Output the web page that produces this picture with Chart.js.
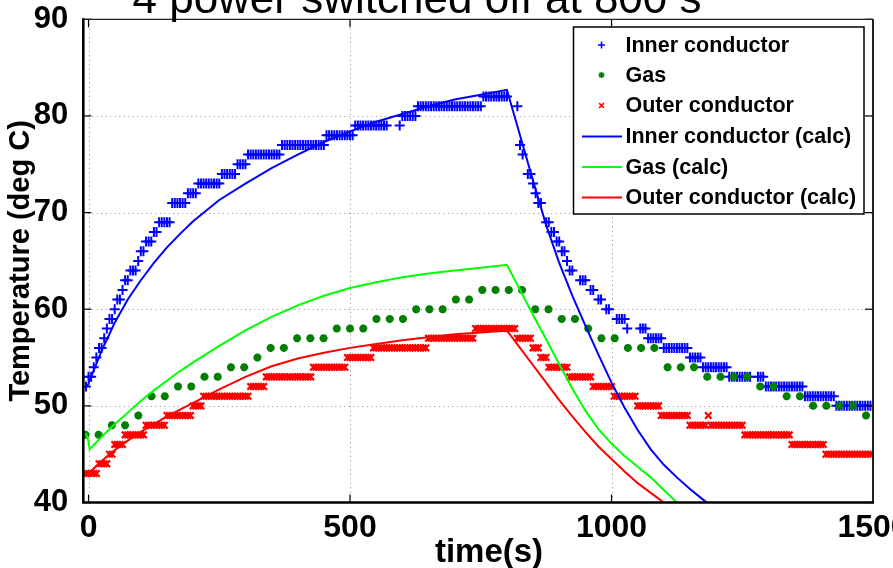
<!DOCTYPE html>
<html>
<head>
<meta charset="utf-8">
<script src="https://cdn.jsdelivr.net/npm/chart.js@4.4.1/dist/chart.umd.min.js"></script>
<style>
  html, body { margin: 0; padding: 0; background: #fff; }
</style>
</head>
<body>
<canvas id="chart" width="893" height="568"></canvas>
<script>
/* ======================
   DATA
====================== */
const titleText = "4 power switched off at 800 s"
const xTitle = "time(s)"
const yTitle = "Temperature (deg C)"
const xTicks = [0, 500, 1000, 1500]
const yTicks = [40, 50, 60, 70, 80, 90]

// measured points: inner / outer every 5 s from -5 s, gas every ~25 s
const sampleStart = -5
const sampleStep = 5
const gasStart = -6
const gasStep = 25.3

const innerMeasured = [
  52,53,53,54,55,56,56,57,58,59,59,60,61,61,62,63,63,64,64,64,
  65,66,66,67,67,67,68,68,69,69,69,69,69,71,71,71,71,71,71,72,
  72,72,72,73,73,73,73,73,73,73,73,73,74,74,74,74,74,74,75,75,
  75,75,76,76,76,76,76,76,76,76,76,76,76,76,76,77,77,77,77,77,
  77,77,77,77,77,77,77,77,77,77,77,77,78,78,78,78,78,78,78,78,
  78,78,78,79,79,79,79,79,79,79,79,79,79,79,79,79,null,null,null,null,
  79,80,80,80,80,80,80,81,81,81,81,81,81,81,81,81,81,81,81,81,
  81,81,81,81,81,81,81,81,81,81,81,81,82,82,82,82,82,82,82,82,
  82,82,null,null,null,81,77,76,null,74,74,73,72,71,71,null,69,69,68,68,
  67,67,66,66,65,64,64,null,null,63,63,63,null,62,62,null,61,61,null,60,
  60,null,null,59,59,59,59,58,null,null,null,null,58,58,58,57,57,57,57,57,
  57,56,56,56,56,56,56,56,56,56,56,55,55,55,55,55,54,54,54,54,
  54,54,54,54,54,54,53,53,53,53,53,53,53,53,53,null,null,53,53,53,
  52,52,52,52,52,52,52,52,52,52,52,52,52,52,52,51,51,51,51,51,
  51,51,51,51,51,51,51,50,50,50,50,50,50,50,50,50,50,50,50,50,
  50
]

const outerMeasured = [
  43,43,43,43,43,44,44,44,44,45,45,46,46,46,46,47,47,47,47,47,
  47,47,47,48,48,48,48,48,48,48,48,49,49,49,49,49,49,49,49,49,
  49,50,50,50,50,51,51,51,51,51,51,51,51,51,51,51,51,51,51,51,
  51,51,51,52,52,52,52,52,52,53,53,53,53,53,53,53,53,53,53,53,
  53,53,53,53,53,53,53,54,54,54,54,54,54,54,54,54,54,54,54,54,
  55,55,55,55,55,55,55,55,55,55,56,56,56,56,56,56,56,56,56,56,
  56,56,56,56,56,56,56,56,56,56,56,57,57,57,57,57,57,57,57,57,
  57,57,57,57,57,57,57,57,57,58,58,58,58,58,58,58,58,58,58,58,
  58,58,58,58,58,57,57,57,57,57,57,56,56,56,55,55,55,54,54,54,
  54,54,54,54,54,53,53,53,53,53,53,53,53,53,52,52,52,52,52,52,
  52,52,51,51,51,51,51,51,51,51,51,50,50,50,50,50,50,50,50,50,
  49,49,49,49,49,49,49,49,49,49,49,48,48,48,48,48,48,48,49,48,
  48,48,48,48,48,48,48,48,48,48,48,48,47,47,47,47,47,47,47,47,
  47,47,47,47,47,47,47,47,47,47,46,46,46,46,46,46,46,46,46,46,
  46,46,46,45,45,45,45,45,45,45,45,45,45,45,45,45,45,45,45,45,
  45
]

const gasMeasured = [
  47,47,48,48,49,51,51,52,52,53,53,54,54,55,56,56,57,57,57,58,
  58,58,59,59,59,60,60,60,61,61,62,62,62,62,60,60,59,59,58,57,
  57,56,56,56,54,54,54,53,53,53,53,52,52,51,51,50,50,50,50,49
]

// calculated curves, read at these times
const calcTimes = [
  -5, 0, 2, 25, 50, 75, 100, 125, 150, 175, 200, 250, 300, 350, 400, 450,
  500, 550, 600, 650, 700, 750, 800, 825, 850, 875, 900, 925, 950, 975,
  1000, 1025, 1050, 1075, 1100, 1125, 1150, 1175, 1200
]
const innerCalc = [
  51.9, 52.3, 52.6, 55.7, 58.6, 61.0, 63.0, 64.8, 66.4, 67.8, 69.1, 71.3, 73.0, 74.6, 76.0, 77.3,
  78.4, 79.4, 80.2, 81.0, 81.7, 82.2, 82.7, 78.0, 73.3, 68.7, 64.8, 61.4, 58.3, 55.3,
  52.4, 49.8, 47.5, 45.5, 43.9, 42.6, 41.4, 40.3, 39.3
]
const gasCalc = [
  47.2, 46.3, 45.5, 46.8, 48.1, 49.3, 50.5, 51.6, 52.6, 53.6, 54.5, 56.2, 57.8, 59.2, 60.4, 61.4,
  62.2, 62.8, 63.3, 63.7, 64.0, 64.3, 64.6, 62.0, 59.4, 56.9, 54.3, 51.8, 49.5, 47.6,
  46.1, 44.8, 43.7, 42.6, 41.3, 40.0, 38.8, 37.8, 36.9
]
const outerCalc = [
  42.9, 43.0, 43.1, 44.3, 45.4, 46.4, 47.3, 48.1, 48.9, 49.6, 50.3, 51.7, 53.0, 54.1, 54.9, 55.5,
  56.0, 56.4, 56.8, 57.1, 57.4, 57.6, 57.8, 56.0, 54.2, 52.4, 50.6, 48.9, 47.3, 45.8,
  44.5, 43.2, 42.0, 41.0, 40.0, 39.1, 38.3, 37.6, 37.0
]

/* ======================
   HELPERS
====================== */
const FONT = '"Liberation Sans", Arial, Helvetica, sans-serif'

const sampled = (values, start, step) =>
  values.map((v, i) => ({ x: start + i * step, y: v }))

const paired = (times, values) =>
  times.map((t, i) => ({ x: t, y: values[i] }))

const AREA = { left: 83.3, right: 873, top: 19.3, bottom: 502.5 }

/* ======================
   PLUGINS
====================== */
const dottedGrid = {
  id: "dottedGrid",
  beforeDatasetsDraw(chart) {
    const { ctx, chartArea: a, scales: { x, y } } = chart
    ctx.save()
    ctx.strokeStyle = "#8c8c8c"
    ctx.lineWidth = 1
    ctx.setLineDash([1, 3.5])
    xTicks.forEach(v => {
      const px = Math.round(x.getPixelForValue(v)) + 0.5
      if (px <= a.left + 1 || px >= a.right - 1) return
      ctx.beginPath(); ctx.moveTo(px, a.top); ctx.lineTo(px, a.bottom); ctx.stroke()
    })
    yTicks.forEach(v => {
      const py = Math.round(y.getPixelForValue(v)) + 0.5
      if (py <= a.top + 1 || py >= a.bottom - 1) return
      ctx.beginPath(); ctx.moveTo(a.left, py); ctx.lineTo(a.right, py); ctx.stroke()
    })
    ctx.restore()
  }
}

const matlabFrame = {
  id: "matlabFrame",
  afterDatasetsDraw(chart) {
    const { ctx, chartArea: a, scales: { x, y } } = chart
    const tick = 8
    ctx.save()
    ctx.setLineDash([])
    ctx.strokeStyle = "#000"
    // ticks pointing inward on every side
    ctx.lineWidth = 1.2
    xTicks.forEach(v => {
      const px = x.getPixelForValue(v)
      ctx.beginPath(); ctx.moveTo(px, a.bottom); ctx.lineTo(px, a.bottom - tick); ctx.stroke()
      ctx.beginPath(); ctx.moveTo(px, a.top); ctx.lineTo(px, a.top + tick); ctx.stroke()
    })
    yTicks.forEach(v => {
      const py = y.getPixelForValue(v)
      ctx.beginPath(); ctx.moveTo(a.left, py); ctx.lineTo(a.left + tick, py); ctx.stroke()
      ctx.beginPath(); ctx.moveTo(a.right, py); ctx.lineTo(a.right - tick, py); ctx.stroke()
    })
    // box
    ctx.strokeStyle = "#222"
    ctx.lineWidth = 1.2
    ctx.beginPath(); ctx.moveTo(a.left, a.top); ctx.lineTo(a.right, a.top); ctx.stroke()
    ctx.lineWidth = 2
    ctx.beginPath(); ctx.moveTo(a.right, a.top); ctx.lineTo(a.right, a.bottom); ctx.stroke()
    ctx.strokeStyle = "#000"
    ctx.lineWidth = 2.6
    ctx.beginPath(); ctx.moveTo(a.left, a.top - 1); ctx.lineTo(a.left, a.bottom); ctx.lineTo(a.right + 1, a.bottom); ctx.stroke()
    ctx.restore()
  }
}

const boxLegend = {
  id: "boxLegend",
  afterDraw(chart) {
    const { ctx } = chart
    const box = { x: 573.5, y: 27, w: 290.5, h: 187 }
    const rowY = [45, 75, 105.5, 136.5, 167, 197.5]
    ctx.save()
    ctx.fillStyle = "#fff"
    ctx.fillRect(box.x, box.y, box.w, box.h)
    ctx.strokeStyle = "#000"
    ctx.lineWidth = 1.5
    ctx.strokeRect(box.x, box.y, box.w, box.h)
    ctx.font = `bold 21.5px ${FONT}`
    ctx.textBaseline = "middle"
    ctx.textAlign = "left"
    chart.data.datasets.forEach((ds, i) => {
      const yy = rowY[i]
      if (ds.showLine) {
        ctx.strokeStyle = ds.borderColor
        ctx.lineWidth = 2
        ctx.beginPath(); ctx.moveTo(582, yy); ctx.lineTo(622, yy); ctx.stroke()
      } else {
        ctx.strokeStyle = ds.borderColor
        ctx.fillStyle = ds.backgroundColor
        Chart.helpers.drawPoint(ctx, {
          pointStyle: ds.pointStyle, radius: ds.legendRadius,
          rotation: 0, borderWidth: ds.pointBorderWidth
        }, 601.5, yy)
      }
      ctx.fillStyle = "#000"
      ctx.fillText(ds.label, 625.5, yy + 1)
    })
    ctx.restore()
  }
}

const outerTexts = {
  id: "outerTexts",
  afterDraw(chart) {
    const { ctx } = chart
    ctx.save()
    ctx.fillStyle = "#000"
    ctx.textAlign = "center"
    ctx.textBaseline = "alphabetic"
    // title, mostly above the top edge of the picture
    ctx.font = `44px ${FONT}`
    ctx.fillText(titleText, 417, 12.5)
    // x axis title
    ctx.font = `bold 33px ${FONT}`
    ctx.fillText(xTitle, 489, 562)
    ctx.restore()
  }
}

/* ======================
   CHART
====================== */
const tickFont = { family: FONT, size: 31, weight: "bold" }

new Chart(document.getElementById("chart"), {
  type: "scatter",
  data: {
    datasets: [
      {
        label: "Inner conductor",
        data: sampled(innerMeasured, sampleStart, sampleStep),
        showLine: false,
        pointStyle: "cross",
        pointRadius: 5,
        pointBorderWidth: 2,
        legendRadius: 3.5,
        borderColor: "#0000ff",
        backgroundColor: "#0000ff",
        order: 3
      },
      {
        label: "Gas",
        data: sampled(gasMeasured, gasStart, gasStep),
        showLine: false,
        pointStyle: "star",
        pointRadius: 4,
        pointBorderWidth: 2.6,
        legendRadius: 3,
        borderColor: "#007f00",
        backgroundColor: "#007f00",
        order: 2
      },
      {
        label: "Outer conductor",
        data: sampled(outerMeasured, sampleStart, sampleStep),
        showLine: false,
        pointStyle: "crossRot",
        pointRadius: 4.6,
        pointBorderWidth: 2.2,
        legendRadius: 3.4,
        borderColor: "#ff0000",
        backgroundColor: "#ff0000",
        order: 1
      },
      {
        label: "Inner conductor (calc)",
        data: paired(calcTimes, innerCalc),
        showLine: true,
        pointRadius: 0,
        borderWidth: 2,
        borderColor: "#0000ff",
        backgroundColor: "#0000ff",
        order: 0
      },
      {
        label: "Gas (calc)",
        data: paired(calcTimes, gasCalc),
        showLine: true,
        pointRadius: 0,
        borderWidth: 2,
        borderColor: "#00ff00",
        backgroundColor: "#00ff00",
        order: 0
      },
      {
        label: "Outer conductor (calc)",
        data: paired(calcTimes, outerCalc),
        showLine: true,
        pointRadius: 0,
        borderWidth: 2,
        borderColor: "#ff0000",
        backgroundColor: "#ff0000",
        order: 0
      }
    ]
  },
  options: {
    responsive: false,
    animation: false,
    events: [],
    layout: { padding: { top: AREA.top, right: 893 - AREA.right, left: 0, bottom: 0 } },
    plugins: { legend: { display: false }, tooltip: { enabled: false }, title: { display: false } },
    scales: {
      x: {
        type: "linear",
        min: -10,
        max: 1500,
        afterBuildTicks: s => { s.ticks = xTicks.map(v => ({ value: v })) },
        afterFit: s => { s.height = 568 - AREA.bottom; s.paddingLeft = 0; s.paddingRight = 0 },
        grid: { display: false },
        border: { display: false },
        ticks: {
          font: { family: FONT, size: 32, weight: "bold" }, color: "#000", padding: -2,
          maxRotation: 0, autoSkip: false, callback: v => String(v)
        },
        title: { display: false }
      },
      y: {
        type: "linear",
        min: 40,
        max: 90,
        afterBuildTicks: s => { s.ticks = yTicks.map(v => ({ value: v })) },
        afterFit: s => { s.width = AREA.left; s.paddingTop = 0; s.paddingBottom = 0 },
        grid: { display: false },
        border: { display: false },
        ticks: { font: tickFont, color: "#000", padding: 7, autoSkip: false, callback: v => String(v) },
        title: {
          display: true, text: yTitle, color: "#000",
          font: { family: FONT, size: 29, weight: "bold" },
          padding: { top: 4, bottom: 0 }
        }
      }
    }
  },
  plugins: [dottedGrid, matlabFrame, boxLegend, outerTexts]
})
</script>
</body>
</html>
